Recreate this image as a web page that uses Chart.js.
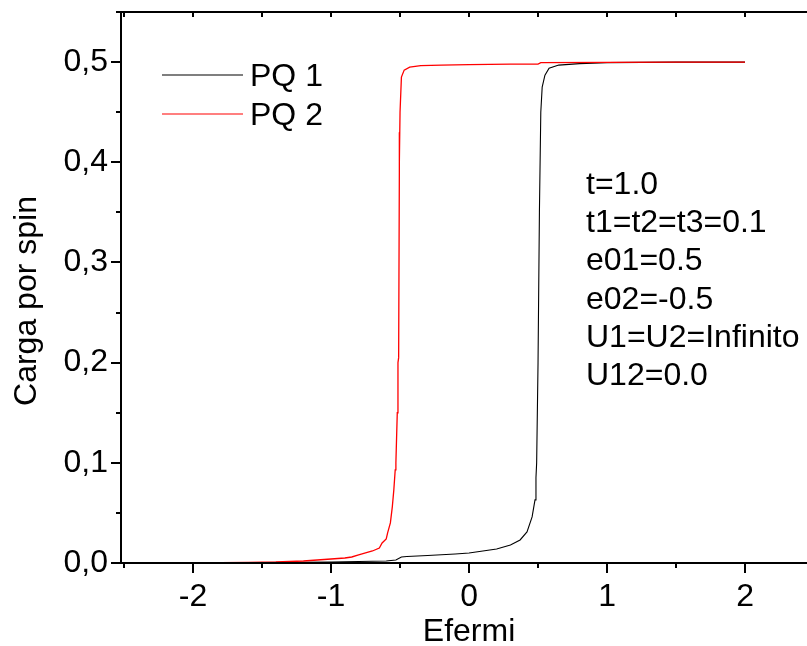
<!DOCTYPE html>
<html>
<head>
<meta charset="utf-8">
<script src="https://cdn.jsdelivr.net/npm/chart.js@4/dist/chart.umd.min.js"></script>
<style>
  html, body { margin: 0; padding: 0; background: #fff; }
  #wrap { width: 807px; height: 646px; }
</style>
</head>
<body>
<div id="wrap"><canvas id="c" width="807" height="646"></canvas></div>
<script>
// ---- Data ----
const seriesNames = ['PQ 1', 'PQ 2'];
const xTickValues = [-2, -1, 0, 1, 2];
const yTickValues = [0, 0.1, 0.2, 0.3, 0.4, 0.5];

const pq1X = [-2.0, -1.5, -1.0, -0.6, -0.53, -0.49, -0.45, -0.3, -0.1, 0.0, 0.1, 0.2, 0.3, 0.37, 0.42, 0.457, 0.478, 0.485, 0.49, 0.50, 0.51, 0.52, 0.53, 0.55, 0.58, 0.65, 0.80, 1.0, 1.5, 2.0];
const pq1Y = [0.0, 0.0005, 0.001, 0.002, 0.003, 0.006, 0.0065, 0.0075, 0.009, 0.010, 0.012, 0.014, 0.018, 0.023, 0.031, 0.046, 0.063, 0.085, 0.10, 0.20, 0.35, 0.45, 0.475, 0.487, 0.494, 0.497, 0.4985, 0.4995, 0.500, 0.500];

const pq2X = [-2.0, -1.8, -1.6, -1.4, -1.2, -1.1, -1.0, -0.9, -0.85, -0.8, -0.75, -0.7, -0.65, -0.63, -0.60, -0.59, -0.57, -0.556, -0.545, -0.535, -0.53, -0.52, -0.515, -0.51, -0.505, -0.507, -0.503, -0.50, -0.49, -0.47, -0.43, -0.35, -0.2, 0.0, 0.3, 0.5, 0.52, 1.0, 1.5, 2.0];
const pq2Y = [0.0, 0.0003, 0.0007, 0.001, 0.002, 0.003, 0.004, 0.005, 0.006, 0.008, 0.010, 0.012, 0.015, 0.020, 0.024, 0.030, 0.040, 0.056, 0.073, 0.093, 0.10, 0.15, 0.20, 0.205, 0.39, 0.43, 0.40, 0.45, 0.485, 0.492, 0.495, 0.4965, 0.497, 0.4975, 0.498, 0.498, 0.4995, 0.4998, 0.500, 0.500];

const annotationLines = ['t=1.0', 't1=t2=t3=0.1', 'e01=0.5', 'e02=-0.5', 'U1=U2=Infinito', 'U12=0.0'];
const xTitle = 'Efermi';
const yTitle = 'Carga por spin';

// ---- Build chart ----
const FONT = '"Liberation Sans", Arial, Helvetica, sans-serif';
const FS = 32;
const toPts = (xs, ys) => xs.map((x, i) => ({ x: x, y: ys[i] }));

const decor = {
  id: 'decor',
  afterDraw(chart) {
    const ctx = chart.ctx;
    const xs = chart.scales.x, ys = chart.scales.y;
    const a = chart.chartArea;
    const W = chart.width;
    ctx.save();
    ctx.strokeStyle = '#000';
    ctx.fillStyle = '#000';
    ctx.lineWidth = 2;
    ctx.lineCap = 'butt';
    // axis lines
    ctx.beginPath();
    ctx.moveTo(a.left, a.top); ctx.lineTo(a.left, a.bottom);
    ctx.moveTo(a.left - 1, a.bottom); ctx.lineTo(W, a.bottom);
    ctx.moveTo(a.left - 1, a.top); ctx.lineTo(W, a.top);
    ctx.stroke();
    // y ticks (major + minor)
    ctx.beginPath();
    for (let k = 0; k <= 11; k++) {
      const v = k * 0.05;
      const py = Math.round(ys.getPixelForValue(v));
      const len = (k % 2 === 0) ? 10 : 5;
      ctx.moveTo(a.left, py); ctx.lineTo(a.left - len, py);
    }
    // x ticks bottom (major + minor) and top inward
    for (let k = -5; k <= 5; k++) {
      const v = k * 0.5;
      const px = Math.round(xs.getPixelForValue(v));
      if (px < a.left - 4 || px > W) continue;
      const len = (k % 2 === 0) ? 10 : 5;
      ctx.moveTo(px, a.bottom); ctx.lineTo(px, a.bottom + len);
      ctx.moveTo(px, a.top); ctx.lineTo(px, a.top + 5);
    }
    ctx.stroke();

    // axis titles
    ctx.font = FS + 'px ' + FONT;
    ctx.textAlign = 'center';
    ctx.textBaseline = 'alphabetic';
    ctx.fillText(xTitle, xs.getPixelForValue(0), 641);
    ctx.save();
    ctx.translate(36, 301);
    ctx.rotate(-Math.PI / 2);
    ctx.fillText(yTitle, 0, 0);
    ctx.restore();

    // legend
    const ds = chart.data.datasets;
    ds.forEach((d, i) => {
      const ly = 75 + i * 39;
      ctx.strokeStyle = d.borderColor;
      ctx.lineWidth = 1.2;
      ctx.beginPath();
      ctx.moveTo(162, ly); ctx.lineTo(243, ly);
      ctx.stroke();
      ctx.fillStyle = '#000';
      ctx.textAlign = 'left';
      ctx.fillText(d.label, 250, ly + 11);
    });

    // annotation text
    ctx.textAlign = 'left';
    annotationLines.forEach((t, i) => {
      ctx.fillText(t, 586, 194 + i * 38.2);
    });
    ctx.restore();
  }
};

new Chart(document.getElementById('c'), {
  type: 'line',
  data: {
    datasets: [
      { label: seriesNames[0], data: toPts(pq1X, pq1Y), borderColor: '#000000', borderWidth: 1.1, pointRadius: 0, tension: 0, fill: false, order: 1 },
      { label: seriesNames[1], data: toPts(pq2X, pq2Y), borderColor: '#ff0000', borderWidth: 1.3, pointRadius: 0, tension: 0, fill: false, order: 0 }
    ]
  },
  options: {
    responsive: false,
    animation: false,
    events: [],
    layout: { padding: { top: 12, right: 0, left: 0, bottom: 0 } },
    plugins: { legend: { display: false }, tooltip: { enabled: false }, title: { display: false } },
    scales: {
      x: {
        type: 'linear',
        min: -2.522,
        max: 2.449,
        afterBuildTicks: (s) => { s.ticks = xTickValues.map(v => ({ value: v })); },
        ticks: {
          includeBounds: false,
          color: '#000',
          font: { family: FONT, size: FS },
          padding: 15,
          maxRotation: 0,
          autoSkip: false,
          callback: (v) => String(Math.round(v))
        },
        grid: { display: false, drawTicks: false },
        border: { display: false },
        afterFit: (s) => { s.height = 83; s.paddingLeft = 0; s.paddingRight = 0; }
      },
      y: {
        type: 'linear',
        min: 0,
        max: 0.55,
        afterBuildTicks: (s) => { s.ticks = yTickValues.map(v => ({ value: v })); },
        ticks: {
          includeBounds: false,
          color: '#000',
          font: { family: FONT, size: FS },
          padding: 13,
          autoSkip: false,
          callback: (v) => v.toFixed(1).replace('.', ',')
        },
        grid: { display: false, drawTicks: false },
        border: { display: false },
        afterFit: (s) => { s.width = 121; s.paddingTop = 0; s.paddingBottom = 0; }
      }
    }
  },
  plugins: [decor]
});
</script>
</body>
</html>
